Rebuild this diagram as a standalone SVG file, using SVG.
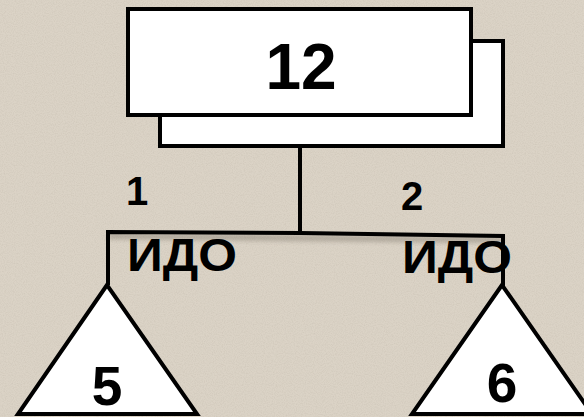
<svg xmlns="http://www.w3.org/2000/svg" width="584" height="417" viewBox="0 0 584 417">
<defs>
<filter id="tex" x="0" y="0" width="100%" height="100%">
<feTurbulence type="fractalNoise" baseFrequency="0.9" numOctaves="2" seed="3" result="n"/>
<feColorMatrix in="n" type="matrix" values="0 0 0 0 0.45  0 0 0 0 0.40  0 0 0 0 0.33  0 0 0 0.5 -0.18" result="m"/>
<feComposite in="m" in2="SourceGraphic" operator="over"/>
</filter>
<filter id="sh" x="-10%" y="-50%" width="120%" height="300%">
<feGaussianBlur stdDeviation="2.5"/>
</filter>
</defs>
<style>
.box{fill:#ffffff;stroke:#000000;stroke-width:4;}
.tri{fill:#ffffff;stroke:#000000;stroke-width:4;stroke-linejoin:miter;}
.ln{stroke:#000000;stroke-width:4;fill:none;}
.t{font-family:"Liberation Sans","Open Sans",Arial,sans-serif;font-weight:bold;fill:#000000;}
</style>
<rect width="584" height="417" fill="#dbd3c6" filter="url(#tex)"/>
<g id="connectors">
<path d="M108,236 L300,238 L503,240" stroke="#6b6358" stroke-width="5" fill="none" opacity="0.45" filter="url(#sh)"/>
<line class="ln" x1="300" y1="148" x2="300" y2="234"/>
<polyline class="ln" points="108,285 108,232 300,233 503,236 503,290"/>
<text class="t" x="137" y="205" font-size="40" text-anchor="middle">1</text>
<text class="t" x="127" y="271" font-size="46" textLength="110" lengthAdjust="spacingAndGlyphs">ИДО</text>
<text class="t" x="412" y="210" font-size="40" text-anchor="middle">2</text>
<text class="t" x="402" y="273" font-size="46" textLength="110" lengthAdjust="spacingAndGlyphs">ИДО</text>
</g>
<g id="node-12">
<rect class="box" x="160" y="41" width="343" height="105"/>
<rect class="box" x="128" y="9" width="343" height="106"/>
<text class="t" x="301" y="89" font-size="64" text-anchor="middle">12</text>
</g>
<g id="node-5">
<polygon class="tri" points="107,285 18,414 197,414"/>
<text class="t" x="107" y="405" font-size="55" text-anchor="middle">5</text>
</g>
<g id="node-6">
<polygon class="tri" points="502,285 412,414 592,414"/>
<text class="t" x="502" y="402" font-size="55" text-anchor="middle">6</text>
</g>
</svg>
